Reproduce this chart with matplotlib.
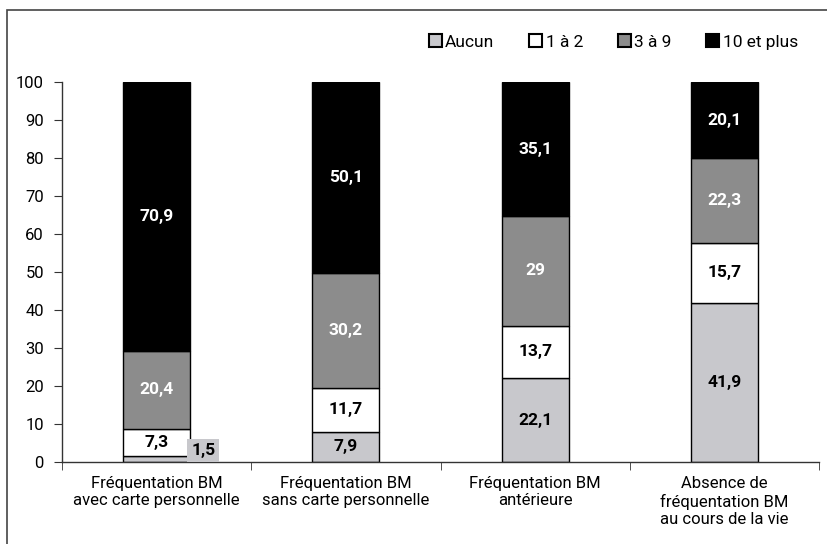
import matplotlib
matplotlib.use("Agg")
import matplotlib.pyplot as plt
from matplotlib.patches import Rectangle, Patch
import numpy as np

plt.rcParams['font.family'] = ['Roboto', 'DejaVu Sans']

categories = ["Fréquentation BM\navec carte personnelle",
              "Fréquentation BM\nsans carte personnelle",
              "Fréquentation BM\nantérieure",
              "Absence de\nfréquentation BM\nau cours de la vie"]
series_names = ["Aucun", "1 à 2", "3 à 9", "10 et plus"]
aucun = [1.5, 7.9, 22.1, 41.9]
un_a_deux = [7.3, 11.7, 13.7, 15.7]
trois_a_neuf = [20.4, 30.2, 29, 22.3]
dix_et_plus = [70.9, 50.1, 35.1, 20.1]
label_aucun = ["1,5", "7,9", "22,1", "41,9"]
label_un = ["7,3", "11,7", "13,7", "15,7"]
label_trois = ["20,4", "30,2", "29", "22,3"]
label_dix = ["70,9", "50,1", "35,1", "20,1"]

colors = ["#C8C8CC", "#FFFFFF", "#8C8C8C", "#000000"]
text_colors = ["black", "black", "white", "white"]

fig = plt.figure(figsize=(8.27, 5.44), dpi=100)
ax = fig.add_axes([62/827, 1-462/544, (819-62)/827, (462-82)/544])

x = np.arange(len(categories))
series = [aucun, un_a_deux, trois_a_neuf, dix_et_plus]
labels = [label_aucun, label_un, label_trois, label_dix]
bottom = np.zeros(len(categories))
width = 0.354
for s, (vals, col, tc, lab) in enumerate(zip(series, colors, text_colors, labels)):
    vals = np.array(vals, dtype=float)
    ax.bar(x, vals, width, bottom=bottom, color=col, edgecolor="black",
           linewidth=1.0, label=series_names[s])
    for i in range(len(x)):
        yc = bottom[i] + vals[i] / 2
        if vals[i] < 3:
            ax.text(x[i] + width / 2 + 0.07, 3.0, lab[i], ha="center", va="center",
                    fontsize=12.5, fontweight="bold", color="black",
                    bbox=dict(boxstyle="square,pad=0.22", facecolor="#C8C8CC",
                              edgecolor="none"))
        else:
            ax.text(x[i], yc, lab[i], ha="center", va="center", fontsize=12.5,
                    fontweight="bold", color=tc)
    bottom += vals

ax.set_xlim(-0.5, 3.5)
ax.set_ylim(0, 100)
ax.set_yticks(np.arange(0, 101, 10))
ax.set_xticks(x)
ax.set_xticklabels(categories, fontsize=12, linespacing=1.2)
ax.tick_params(axis='x', length=0, pad=10)
ax.set_xticks(np.arange(-0.5, 4.0, 1.0), minor=True)
ax.tick_params(axis='x', which='minor', length=6, direction='out', color='#333333')
ax.tick_params(axis='y', length=6, direction='out', labelsize=12, pad=7, color='#333333')
ax.spines['top'].set_visible(False)
ax.spines['right'].set_visible(False)
for sp in ['left', 'bottom']:
    ax.spines[sp].set_color('#333333')
    ax.spines[sp].set_linewidth(1.0)

handles = [Patch(facecolor=c, edgecolor="black", linewidth=1.5) for c in colors]
fig.legend(handles, series_names, loc="center right", bbox_to_anchor=(805/827, 1-42/544),
           ncol=4, frameon=False, fontsize=12.5, handlelength=0.75, handleheight=0.75,
           handletextpad=0.2, columnspacing=2.0, borderaxespad=0)

fig.patches.append(Rectangle((7/827, -0.1), 2.0, 1.1 - 10/544,
                             transform=fig.transFigure, fill=False,
                             edgecolor="#444444", linewidth=1.2))

fig.savefig("out.png", dpi=100)
